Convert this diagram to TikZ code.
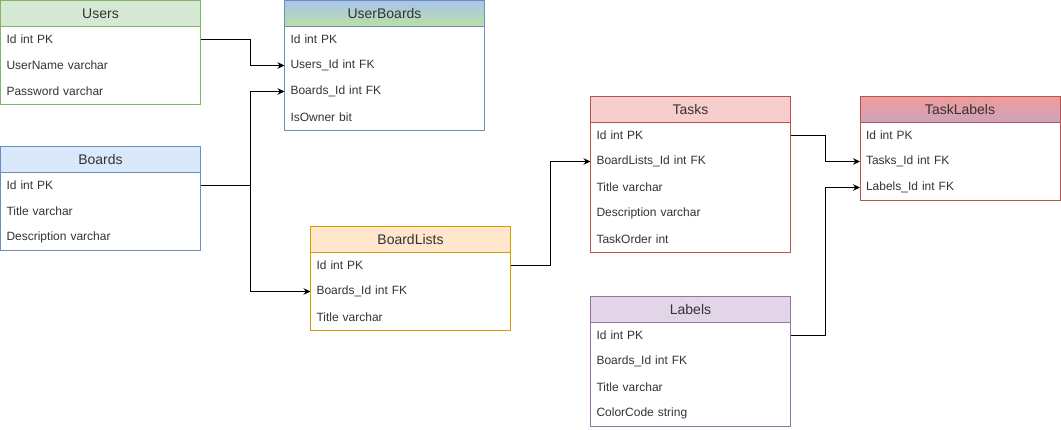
\documentclass[tikz,border=0pt]{standalone}
\usepackage{fontspec}
\setmainfont{Liberation Sans}
\usetikzlibrary{arrows.meta}

\definecolor{txt}{HTML}{333333}
\definecolor{grnfill}{HTML}{D5E8D4}\definecolor{grnline}{HTML}{82B366}
\definecolor{blufill}{HTML}{DAE8FC}\definecolor{bluline}{HTML}{6C8EBF}
\definecolor{orafill}{HTML}{FFE6CC}\definecolor{oraline}{HTML}{D79B00}
\definecolor{redfill}{HTML}{F8CECC}\definecolor{redline}{HTML}{B85450}
\definecolor{purfill}{HTML}{E1D5E7}\definecolor{purline}{HTML}{9673A6}
\definecolor{ubtop}{HTML}{A9C4EB}\definecolor{ubbot}{HTML}{B9E0A5}
\definecolor{tltop}{HTML}{F19C99}\definecolor{tlbot}{HTML}{CDA2BE}

\tikzset{
  hdr/.style={draw, anchor=north west, minimum width=200pt, minimum height=26pt,
    inner sep=0pt, outer sep=0pt, text=txt, font=\fontsize{14}{16}\selectfont},
  row/.style={anchor=north west, minimum width=200pt, minimum height=26pt,
    text width=188pt, inner xsep=6pt, inner ysep=0pt, outer sep=0pt, align=left,
    text=txt, font=\fontsize{12}{14}\selectfont},
  arr/.style={-{Stealth[length=7pt, width=6.5pt]}, line width=1pt}
}

\begin{document}
\begin{tikzpicture}[x=1pt, y=-1pt]
    \useasboundingbox (0,0) rectangle (1061,430);

    % Users
    \node[hdr, fill=grnfill, draw=grnline] (usr) at (0.5,0.5) {Users};
    \foreach \t [count=\i] in {Id int PK, UserName varchar, Password varchar}
        \node[row] (usr\i) at ([yshift={-(\i-1)*26pt}]usr.south west) {\t};
    \draw[grnline] (usr.north west) rectangle (usr3.south east);

    % UserBoards
    \node[hdr, top color=ubtop, bottom color=ubbot, draw=bluline] (ub) at (284.5,0.5) {UserBoards};
    \foreach \t [count=\i] in {Id int PK, Users\_Id int FK, Boards\_Id int FK, IsOwner bit}
        \node[row] (ub\i) at ([yshift={-(\i-1)*26pt}]ub.south west) {\t};
    \draw[bluline] (ub.north west) rectangle (ub4.south east);

    % Boards
    \node[hdr, fill=blufill, draw=bluline] (brd) at (0.5,146.5) {Boards};
    \foreach \t [count=\i] in {Id int PK, Title varchar, Description varchar}
        \node[row] (brd\i) at ([yshift={-(\i-1)*26pt}]brd.south west) {\t};
    \draw[bluline] (brd.north west) rectangle (brd3.south east);

    % BoardLists
    \node[hdr, fill=orafill, draw=oraline] (bl) at (310.5,226.5) {BoardLists};
    \foreach \t [count=\i] in {Id int PK, Boards\_Id int FK, Title varchar}
        \node[row] (bl\i) at ([yshift={-(\i-1)*26pt}]bl.south west) {\t};
    \draw[oraline] (bl.north west) rectangle (bl3.south east);

    % Tasks
    \node[hdr, fill=redfill, draw=redline] (tsk) at (590.5,96.5) {Tasks};
    \foreach \t [count=\i] in {Id int PK, BoardLists\_Id int FK, Title varchar, Description varchar, TaskOrder int}
        \node[row] (tsk\i) at ([yshift={-(\i-1)*26pt}]tsk.south west) {\t};
    \draw[redline] (tsk.north west) rectangle (tsk5.south east);

    % TaskLabels
    \node[hdr, top color=tltop, bottom color=tlbot, draw=redline] (tl) at (860,96.5) {TaskLabels};
    \foreach \t [count=\i] in {Id int PK, Tasks\_Id int FK, Labels\_Id int FK}
        \node[row] (tl\i) at ([yshift={-(\i-1)*26pt}]tl.south west) {\t};
    \draw[redline] (tl.north west) rectangle (tl3.south east);

    % Labels
    \node[hdr, fill=purfill, draw=purline] (lbl) at (590.5,296.5) {Labels};
    \foreach \t [count=\i] in {Id int PK, Boards\_Id int FK, Title varchar, ColorCode string}
        \node[row] (lbl\i) at ([yshift={-(\i-1)*26pt}]lbl.south west) {\t};
    \draw[purline] (lbl.north west) rectangle (lbl4.south east);

    % relations
    \draw[arr] (usr1.east) -- ++(49.5,0) |- (ub2.west);
    \draw[arr] (brd1.east) -- ++(49.5,0) |- (ub3.west);
    \draw[arr] (brd1.east) -- ++(49.5,0) |- (bl2.west);
    \draw[arr] (bl1.east) -- ++(39.5,0) |- (tsk2.west);
    \draw[arr] (tsk1.east) -- ++(34.5,0) |- (tl2.west);
    \draw[arr] (lbl1.east) -- ++(34.5,0) |- (tl3.west);
\end{tikzpicture}
\end{document}
